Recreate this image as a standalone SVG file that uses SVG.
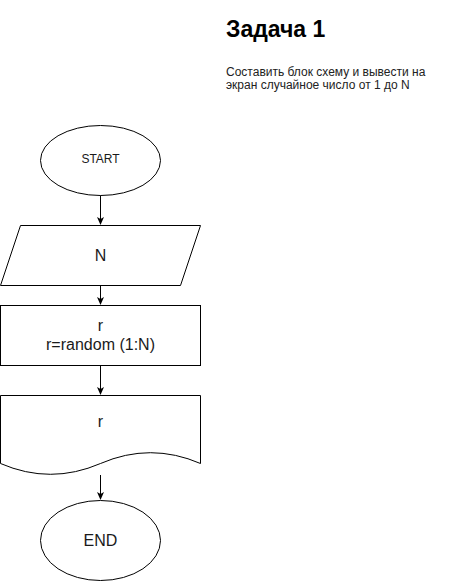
<svg xmlns="http://www.w3.org/2000/svg" width="461" height="581" viewBox="0 0 461 581">
<style>
.shape{fill:#ffffff;stroke:#000000;stroke-width:1}
.lbl{font-family:"Liberation Sans",Arial,Helvetica,sans-serif;fill:#1a1a1a;text-anchor:middle}
.edge{fill:none;stroke:#000000;stroke-width:1}
.body{font-family:"Liberation Sans",Arial,Helvetica,sans-serif;font-size:12px;fill:#222222}
</style>
<defs>
<marker id="arrow" viewBox="0 0 8 7" markerWidth="8" markerHeight="7" refX="2" refY="3.5" orient="auto" markerUnits="userSpaceOnUse">
<path d="M0,0 L8,3.5 L0,7 L2,3.5 Z" fill="#000000" stroke="none"/>
</marker>
</defs>
<rect x="0" y="0" width="461" height="581" fill="#ffffff"/>
<g id="title">
<text x="226" y="37" font-family="Liberation Sans, Arial, sans-serif" font-size="23" font-weight="bold" fill="#000000">Задача 1</text>
<text class="body" x="226" y="76">Составить блок схему и вывести на</text>
<text class="body" x="226" y="89">экран случайное число от 1 до N</text>
</g>
<g id="connectors">
<line class="edge" x1="100.5" y1="195" x2="100.5" y2="219" marker-end="url(#arrow)"/>
<line class="edge" x1="100.5" y1="285" x2="100.5" y2="299" marker-end="url(#arrow)"/>
<line class="edge" x1="100.5" y1="365" x2="100.5" y2="389" marker-end="url(#arrow)"/>
<line class="edge" x1="100.5" y1="475" x2="100.5" y2="494" marker-end="url(#arrow)"/>
</g>
<g id="start">
<ellipse class="shape" cx="100.5" cy="160.5" rx="60" ry="35"/>
<text class="lbl" x="100.5" y="163" font-size="12">START</text>
</g>
<g id="input">
<polygon class="shape" points="20.5,225.5 200.5,225.5 180.5,285.5 0.5,285.5"/>
<text class="lbl" x="100.5" y="261" font-size="16">N</text>
</g>
<g id="process">
<rect class="shape" x="0.5" y="305.5" width="200" height="60"/>
<text class="lbl" x="100.5" y="331" font-size="16">r</text>
<text class="lbl" x="100.5" y="350" font-size="16">r=random (1:N)</text>
</g>
<g id="output">
<path class="shape" d="M0.5,395.5 H200.5 V463.5 Q150.5,441.9 100.5,463.5 Q50.5,485.1 0.5,463.5 Z"/>
<text class="lbl" x="100.5" y="427" font-size="16">r</text>
</g>
<g id="end">
<ellipse class="shape" cx="100.5" cy="540.5" rx="60" ry="40"/>
<text class="lbl" x="100.5" y="546" font-size="16">END</text>
</g>
</svg>
